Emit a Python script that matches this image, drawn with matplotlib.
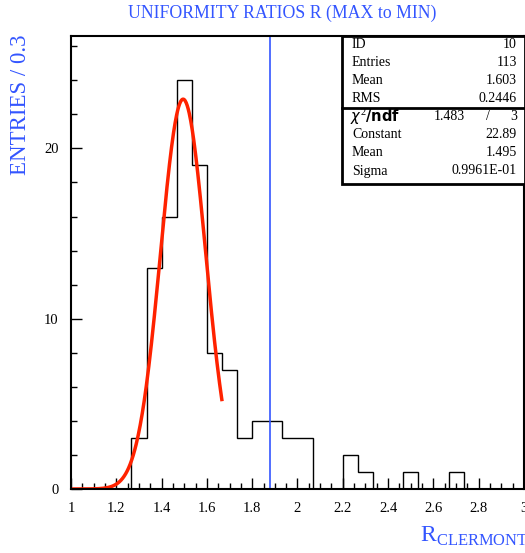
import numpy as np
import matplotlib
matplotlib.use("Agg")
import matplotlib.pyplot as plt
from matplotlib.ticker import MultipleLocator

plt.rcParams['font.family'] = ['Liberation Serif', 'DejaVu Serif']
plt.rcParams['mathtext.fontset'] = 'custom'
plt.rcParams['mathtext.rm'] = 'Liberation Serif'

BLUE = '#3355ff'
RED = '#ff2200'

# histogram: 30 bins between 1 and 3
x_lo, x_hi, n_bins = 1.0, 3.0, 30
counts = [0, 0, 0, 0, 3, 13, 16, 24, 19, 8,
          7, 3, 4, 4, 3, 3, 0, 0, 2, 1,
          0, 0, 1, 0, 0, 1, 0, 0, 0, 0]

# gaussian fit results
fit_const = 22.89
fit_mean = 1.495
fit_sigma = 0.09961
fit_range = (1.0, 1.667)

cut_value = 1.877

stats_top = [("ID", "10"), ("Entries", "113"), ("Mean", "1.603"), ("RMS", "0.2446")]
stats_fit = [("Constant", "22.89"), ("Mean", "1.495"), ("Sigma", "0.9961E-01")]
chi2, ndf = "1.483", "3"

W, H = 525, 553
fig = plt.figure(figsize=(W / 100, H / 100), dpi=100)

def fx(px):
    return px / W

def fy(py):
    return 1 - py / H

ax = fig.add_axes([fx(71), fy(489), fx(524) - fx(71), fy(36) - fy(489)])

edges = np.linspace(x_lo, x_hi, n_bins + 1)
ax.stairs(counts, edges, color='black', lw=1.0)

xs = np.linspace(fit_range[0], fit_range[1], 300)
ax.plot(xs, fit_const * np.exp(-0.5 * ((xs - fit_mean) / fit_sigma) ** 2),
        color=RED, lw=2.5, solid_capstyle='butt')

ax.axvline(cut_value, color=BLUE, lw=1.2)

ax.set_xlim(1, 3)
ax.set_ylim(0, 26.6)
ax.xaxis.set_major_locator(MultipleLocator(0.2))
ax.xaxis.set_minor_locator(MultipleLocator(0.05))
ax.yaxis.set_major_locator(MultipleLocator(10))
ax.yaxis.set_minor_locator(MultipleLocator(2))
ax.tick_params(which='both', direction='in', top=False, right=False,
               labelsize=10.5, width=1.0)
ax.tick_params(which='major', length=8, pad=9)
ax.tick_params(which='minor', length=4)
ax.set_xticks(np.arange(1, 3.01, 0.2))
ax.set_xticklabels(['1', '1.2', '1.4', '1.6', '1.8', '2', '2.2', '2.4', '2.6', '2.8', '3'])
for s in ax.spines.values():
    s.set_linewidth(1.5)

# title and axis labels
fig.text(fx(282), fy(13), "UNIFORMITY RATIOS R (MAX to MIN)", color=BLUE,
         fontsize=12.8, ha='center', va='center')
fig.text(fx(21), fy(105), "ENTRIES / 0.3", color=BLUE, fontsize=16.5,
         rotation=90, ha='center', va='center')
fig.text(fx(420), fy(536), r"R$_{\mathrm{CLERMONT}}$", color=BLUE,
         fontsize=17, ha='left', va='center')

# stats box
box_l, box_r, box_t, box_m, box_b = 342, 525, 36, 108, 184
fig.patches.append(plt.Rectangle((fx(box_l), fy(box_b)), fx(box_r) - fx(box_l),
                                 fy(box_t) - fy(box_b), transform=fig.transFigure,
                                 facecolor='white', edgecolor='black', lw=2, zorder=5))
fig.lines.append(plt.Line2D([fx(box_l), fx(box_r)], [fy(box_m), fy(box_m)],
                            transform=fig.transFigure, color='black', lw=2, zorder=6))

row_h = 18
for i, (lab, val) in enumerate(stats_top):
    y = 45 + i * row_h
    fig.text(fx(352), fy(y), lab, fontsize=10, ha='left', va='center', zorder=7)
    fig.text(fx(517), fy(y), val, fontsize=10, ha='right', va='center', zorder=7)

y = 117
fig.text(fx(350), fy(y), r"$\chi^2$/ndf", fontsize=10.5, ha='left', va='center',
         family='DejaVu Sans', weight='bold', zorder=7)
fig.text(fx(465), fy(y), chi2, fontsize=10, ha='right', va='center', zorder=7)
fig.text(fx(488), fy(y), "/", fontsize=10, ha='center', va='center', zorder=7)
fig.text(fx(517), fy(y), ndf, fontsize=10, ha='right', va='center', zorder=7)
for i, (lab, val) in enumerate(stats_fit):
    y = 135 + i * row_h
    fig.text(fx(352), fy(y), lab, fontsize=10, ha='left', va='center', zorder=7)
    fig.text(fx(517), fy(y), val, fontsize=10, ha='right', va='center', zorder=7)

fig.savefig("out.png", dpi=100)
